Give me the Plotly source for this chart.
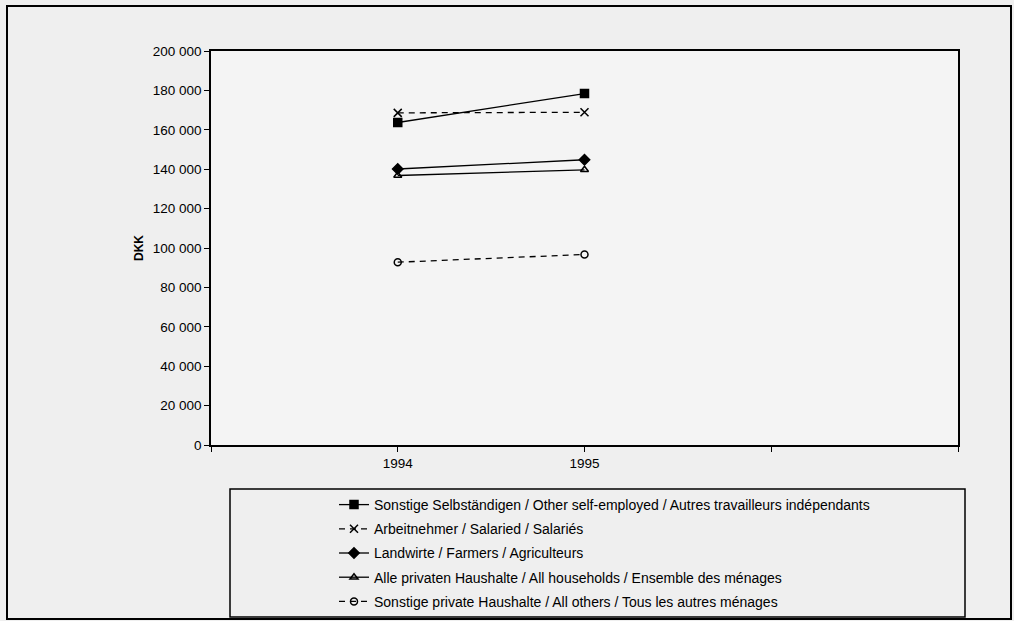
import plotly.graph_objects as go

years = [1994, 1995]
series_names = [
    "Sonstige Selbständigen / Other self-employed / Autres travailleurs indépendants",
    "Arbeitnehmer / Salaried / Salariés",
    "Landwirte / Farmers / Agriculteurs",
    "Alle privaten Haushalte / All households / Ensemble des ménages",
    "Sonstige private Haushalte / All others / Tous les autres ménages",
]
self_employed = [163700, 178400]
salaried = [168600, 168900]
farmers = [140100, 144800]
all_households = [136800, 139700]
all_others = [92800, 96700]

x_tickvals = [1993, 1994, 1995, 1996, 1997]
x_ticktext = ["", "1994", "1995", "", ""]
y_tickvals = [0, 20000, 40000, 60000, 80000, 100000, 120000, 140000, 160000, 180000, 200000]

values = [self_employed, salaried, farmers, all_households, all_others]
styles = [
    dict(dash="solid", symbol="square", size=8),
    dict(dash="6px,5px", symbol="x-thin-open", size=8),
    dict(dash="solid", symbol="diamond", size=8),
    dict(dash="solid", symbol="triangle-up-open", size=7),
    dict(dash="6px,5px", symbol="circle-open", size=7),
]

fig = go.Figure()
for i, (name, vals, st) in enumerate(zip(series_names, values, styles)):
    fig.add_trace(go.Scatter(
        x=years, y=vals, name=name, mode="lines+markers",
        legendgroup=f"g{i}",
        line=dict(color="black", width=1.3, dash=st["dash"]),
        marker=dict(symbol=st["symbol"], size=st["size"], color="black",
                    line=dict(color="black", width=1.5)),
    ))

L, R, T, B = 211, 56, 51, 176
W, H = 1014, 621
pw, ph = W - L - R, H - T - B

def px(x):
    return (x - L) / pw

def py(y):
    return (H - B - y) / ph

fig.update_layout(
    width=W, height=H,
    margin=dict(l=L, r=R, t=T, b=B, autoexpand=False),
    paper_bgcolor="#efefef",
    plot_bgcolor="#f4f4f4",
    separators=". ",
    font=dict(family="Liberation Sans, Arial, sans-serif", color="black", size=12),
    showlegend=True,
    legend=dict(
        x=px(334), y=py(489), xanchor="left", yanchor="top",
        bgcolor="rgba(0,0,0,0)", borderwidth=0,
        traceorder="grouped", tracegroupgap=3,
        font=dict(size=14),
    ),
    xaxis=dict(
        range=[1993, 1997], tickvals=x_tickvals, ticktext=x_ticktext,
        showgrid=False, zeroline=False, showline=True, linecolor="black",
        linewidth=1.5, mirror=True, ticks="outside", ticklen=5,
        tickcolor="black", tickfont=dict(size=13.5),
    ),
    yaxis=dict(
        range=[0, 200000], tickvals=y_tickvals, tickformat=",d",
        showgrid=False, zeroline=False, showline=True, linecolor="black",
        linewidth=1.5, mirror=True, ticks="outside", ticklen=5,
        tickcolor="black", tickfont=dict(size=13.5),
        title=dict(text="<b>DKK</b>", font=dict(size=12), standoff=7),
    ),
    shapes=[
        dict(type="rect", xref="paper", yref="paper",
             x0=px(7), x1=px(1011), y0=py(619), y1=py(6),
             line=dict(color="black", width=2), layer="below"),
        dict(type="rect", xref="paper", yref="paper",
             x0=px(230), x1=px(965), y0=py(617), y1=py(489),
             line=dict(color="black", width=1.5), fillcolor="rgba(0,0,0,0)"),
    ],
)

fig.write_html(
    "out.html",
    config={"displayModeBar": False},
    post_script="document.body.style.margin='0';document.body.style.overflow='hidden';",
)
